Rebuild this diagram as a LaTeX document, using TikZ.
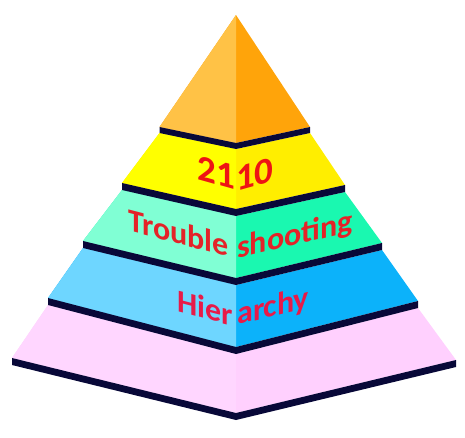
\documentclass[tikz,border=0pt]{standalone}
\usepackage{fontspec}
\setmainfont{Carlito}
\usepackage{xcolor}
\definecolor{orangeL}{RGB}{255,194,70}
\definecolor{orangeR}{RGB}{255,164,10}
\definecolor{yellowL}{RGB}{255,255,0}
\definecolor{yellowR}{RGB}{255,238,0}
\definecolor{greenL}{RGB}{128,255,212}
\definecolor{greenR}{RGB}{26,248,176}
\definecolor{blueL}{RGB}{110,214,255}
\definecolor{blueR}{RGB}{12,178,250}
\definecolor{pinkL}{RGB}{255,214,255}
\definecolor{pinkR}{RGB}{255,208,254}
\definecolor{bandcol}{RGB}{8,8,56}
\definecolor{redA}{RGB}{238,20,20}
\definecolor{redB}{RGB}{228,35,40}
\definecolor{redC}{RGB}{232,26,72}
\tikzset{
  band/.style={fill=bandcol},
  lbl/.style={inner sep=0pt, font=\fontsize{32}{38}\selectfont\bfseries},
  numlbl/.style={inner sep=0pt, text=redA, font=\fontsize{37}{42}\selectfont\bfseries},
  lslant/.style={yslant=-0.26, anchor=base east},
  rslant/.style={yslant=0.24, anchor=base west}
}

\begin{document}
\begin{tikzpicture}[x=1pt,y=-1pt]
\useasboundingbox (0,0) rectangle (465,437);

\fill[orangeR] (236,15) -- (159.5,127) -- (236,143) -- (310,127) -- cycle;
\fill[orangeL] (236,15) -- (159.5,127) -- (236,143) -- cycle;

\fill[yellowR] (159.5,133) -- (122,183) -- (236,209) -- (345,185) -- (310,133) -- (236,149) -- cycle;
\fill[yellowL] (159.5,133) -- (122,183) -- (236,209) -- (236,149) -- cycle;

\fill[greenR] (122,190) -- (83,241) -- (236,278) -- (382,243) -- (345,192) -- (236,216) -- cycle;
\fill[greenL] (122,190) -- (83,241) -- (236,278) -- (236,216) -- cycle;

\fill[blueR] (83,248) -- (48,298) -- (236,347) -- (418,301) -- (382,250) -- (236,285) -- cycle;
\fill[blueL] (83,248) -- (48,298) -- (236,347) -- (236,285) -- cycle;

\fill[pinkR] (48,305) -- (12,358) -- (236,413) -- (456,360) -- (418,308) -- (236,354) -- cycle;
\fill[pinkL] (48,305) -- (12,358) -- (236,413) -- (236,354) -- cycle;

\fill[band] (159.5,127) -- (236,143) -- (310,127) -- (310,133) -- (236,149) -- (159.5,133) -- cycle;
\fill[band] (122,183) -- (236,209) -- (345,185) -- (345,192) -- (236,216) -- (122,190) -- cycle;
\fill[band] (83,241) -- (236,278) -- (382,243) -- (382,250) -- (236,285) -- (83,248) -- cycle;
\fill[band] (48,298) -- (236,347) -- (418,301) -- (418,308) -- (236,354) -- (48,305) -- cycle;
\fill[band] (12,358) -- (236,413) -- (456,360) -- (456,367) -- (236,420) -- (12,365) -- cycle;

\node[numlbl, yslant=-0.28, anchor=base east] (num21) at (235,190) {21};
\node[numlbl, yslant=0.28, anchor=base west] (num10) at (236,192) {10};
\node[lbl, lslant, text=redB] (trouble) at (229,257) {Trouble};
\node[lbl, rslant, text=redB] (shooting) at (237,259) {shooting};
\node[lbl, lslant, text=redC] (hier) at (233,326) {Hier};
\node[lbl, rslant, text=redC] (archy) at (237,325) {archy};
\end{tikzpicture}
\end{document}
